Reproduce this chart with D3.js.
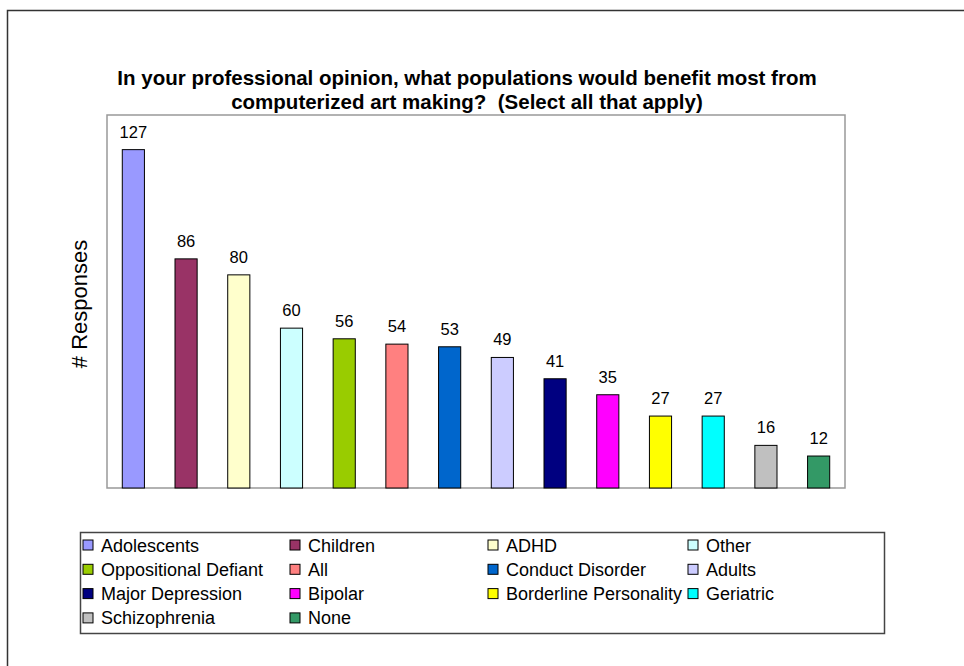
<!DOCTYPE html>
<html>
<head>
<meta charset="utf-8">
<script src="https://cdn.jsdelivr.net/npm/d3@7"></script>
<style>
  body { margin: 0; background: #fff; }
  svg text { font-family: "Liberation Sans", Arial, sans-serif; }
</style>
</head>
<body>
<div id="vis"></div>
<script>
// chart data
var categories = ["Adolescents", "Children", "ADHD", "Other", "Oppositional Defiant", "All",
  "Conduct Disorder", "Adults", "Major Depression", "Bipolar", "Borderline Personality",
  "Geriatric", "Schizophrenia", "None"];
var responses = [127, 86, 80, 60, 56, 54, 53, 49, 41, 35, 27, 27, 16, 12];
var barColors = ["#9999ff", "#993366", "#ffffcc", "#ccffff", "#99cc00", "#ff8080",
  "#0066cc", "#ccccff", "#000080", "#ff00ff", "#ffff00", "#00ffff", "#c0c0c0", "#339966"];
var titleLines = ["In your professional opinion, what populations would benefit most from",
  "computerized art making?  (Select all that apply)"];

var width = 964;
var height = 666;
var plot = { left: 107, top: 115, right: 845, bottom: 488 };

var svg = d3.select('#vis')
  .append('svg')
  .attr('width', width)
  .attr('height', height);

// outer chart frame (runs off the right/bottom of the picture)
svg.append('path')
  .attr('d', 'M7.5,' + height + 'V10.5H' + width)
  .attr('fill', 'none')
  .attr('stroke', '#333')
  .attr('stroke-width', 1.5);

// title
svg.append('g').selectAll('text')
  .data(titleLines)
  .enter().append('text')
  .attr('x', 467)
  .attr('y', function (d, i) { return 85 + i * 24; })
  .attr('text-anchor', 'middle')
  .attr('font-weight', 'bold')
  .attr('font-size', 20.5)
  .attr('xml:space', 'preserve')
  .style('white-space', 'pre')
  .text(function (d) { return d; });

var x = d3.scaleBand()
  .domain(categories)
  .range([plot.left, plot.right])
  .paddingInner(0.58)
  .paddingOuter(0.29);

var y = d3.scaleLinear()
  .domain([0, 140])
  .range([plot.bottom, plot.top]);

// plot area border
svg.append('rect')
  .attr('x', plot.left)
  .attr('y', plot.top)
  .attr('width', plot.right - plot.left)
  .attr('height', plot.bottom - plot.top)
  .attr('fill', 'none')
  .attr('stroke', '#999')
  .attr('stroke-width', 1.5);

svg.append('g').selectAll('rect')
  .data(responses)
  .enter().append('rect')
  .attr('x', function (d, i) { return x(categories[i]); })
  .attr('y', function (d) { return y(d); })
  .attr('width', x.bandwidth())
  .attr('height', function (d) { return y(0) - y(d); })
  .attr('fill', function (d, i) { return barColors[i]; })
  .attr('stroke', '#000')
  .attr('stroke-width', 1);

svg.append('g').selectAll('text')
  .data(responses)
  .enter().append('text')
  .attr('x', function (d, i) { return x(categories[i]) + x.bandwidth() / 2; })
  .attr('y', function (d) { return y(d) - 12; })
  .attr('text-anchor', 'middle')
  .attr('font-size', 16.5)
  .text(function (d) { return d; });

// y axis title
svg.append('text')
  .attr('transform', 'translate(87,304) rotate(-90)')
  .attr('text-anchor', 'middle')
  .attr('font-size', 22)
  .text('# Responses');

// legend
var legend = { left: 80, top: 532, right: 884, bottom: 633 };
svg.append('rect')
  .attr('x', legend.left + 0.5)
  .attr('y', legend.top + 0.5)
  .attr('width', legend.right - legend.left)
  .attr('height', legend.bottom - legend.top)
  .attr('fill', '#fff')
  .attr('stroke', '#444')
  .attr('stroke-width', 1.5);

var colX = [83, 290, 488, 688];
var items = svg.append('g').selectAll('g')
  .data(categories)
  .enter().append('g')
  .attr('transform', function (d, i) {
    return 'translate(' + colX[i % 4] + ',' + (545 + Math.floor(i / 4) * 24.3) + ')';
  });

items.append('rect')
  .attr('x', 0)
  .attr('y', -5)
  .attr('width', 10)
  .attr('height', 10)
  .attr('fill', function (d, i) { return barColors[i]; })
  .attr('stroke', '#000')
  .attr('stroke-width', 1);

items.append('text')
  .attr('x', 18)
  .attr('y', 6.5)
  .attr('font-size', 18)
  .text(function (d) { return d; });
</script>
</body>
</html>
